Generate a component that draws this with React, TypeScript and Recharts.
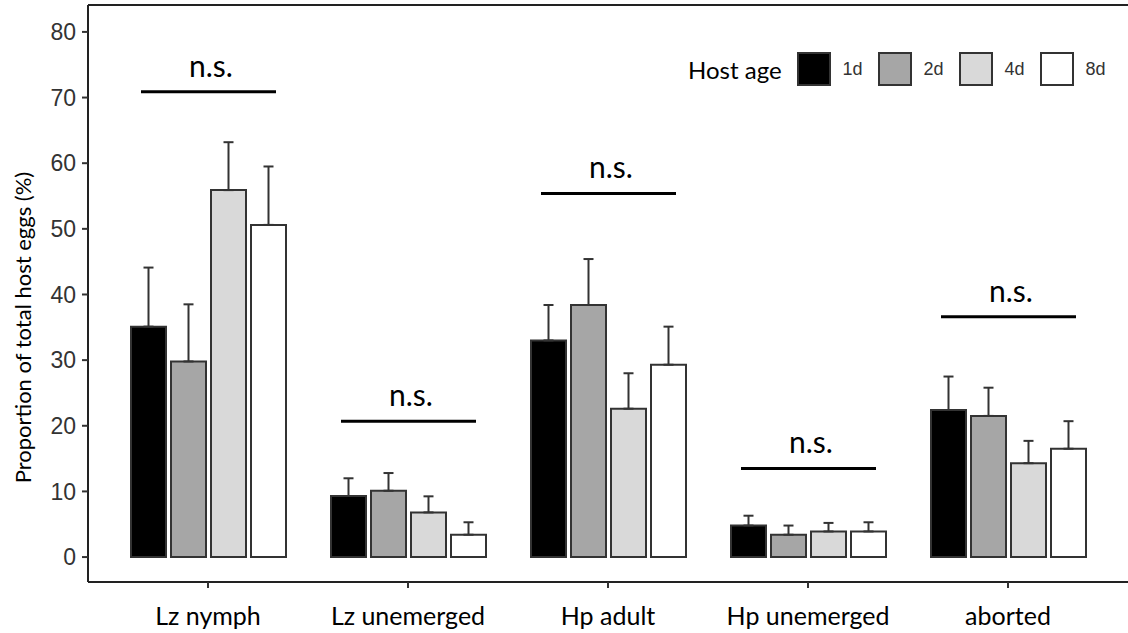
import React from 'react';
import { ComposedChart, Bar, XAxis, YAxis, ErrorBar, Scatter, Legend } from 'recharts';

const categories = ['Lz nymph', 'Lz unemerged', 'Hp adult', 'Hp unemerged', 'aborted'];
const ageLabels = ['1d', '2d', '4d', '8d'];
const ageFills = ['#000000', '#a6a6a6', '#d9d9d9', '#ffffff'];

// mean proportion (%) per host age
const mean1d = [35.1, 9.3, 33.0, 4.8, 22.4];
const mean2d = [29.8, 10.1, 38.4, 3.4, 21.5];
const mean4d = [55.9, 6.8, 22.6, 3.9, 14.3];
const mean8d = [50.6, 3.4, 29.3, 3.9, 16.5];

// upper error (SE)
const err1d = [9.0, 2.7, 5.4, 1.5, 5.1];
const err2d = [8.7, 2.7, 7.0, 1.4, 4.3];
const err4d = [7.3, 2.45, 5.4, 1.3, 3.4];
const err8d = [8.9, 1.9, 5.8, 1.4, 4.2];

// height of the "n.s." bracket
const nsLevel = [70.9, 20.7, 55.4, 13.5, 36.6];

const yTicks = [0, 10, 20, 30, 40, 50, 60, 70, 80];

const means = [mean1d, mean2d, mean4d, mean8d];
const errs = [err1d, err2d, err4d, err8d];

const data = categories.map((cat, i) => {
    const row: any = { cat, ns: nsLevel[i] };
    means.forEach((m, k) => {
        row['m' + k] = m[i];
        row['e' + k] = [0, errs[k][i]];
    });
    return row;
});

const NsMark = ({ cx, cy }: any) => (
    <g>
        <line x1={cx - 67} x2={cx + 68} y1={cy} y2={cy} stroke="#000" strokeWidth={3} />
        <text x={cx + 3} y={cy - 15} textAnchor="middle" fontFamily="Lato" fontSize={30} fill="#000">n.s.</text>
    </g>
);

const HostLegend = () => (
    <div style={{ display: 'flex', alignItems: 'center', whiteSpace: 'nowrap' }}>
        <span style={{ fontFamily: 'Lato', fontSize: 24, color: '#000', marginRight: 15 }}>Host age</span>
        {ageLabels.map((lab, k) => (
            <React.Fragment key={lab}>
                <span style={{ display: 'inline-block', width: 34, height: 34, boxSizing: 'border-box', border: '2px solid #333', background: ageFills[k], marginRight: 12 }} />
                <span style={{ fontFamily: 'Liberation Sans', fontSize: 18, color: '#333', width: 20, marginRight: 15 }}>{lab}</span>
            </React.Fragment>
        ))}
    </div>
);

const YTitle = ({ viewBox }: any) => {
    const x = 22;
    const y = viewBox.y + viewBox.height / 2 + 34;
    return (
        <text x={x} y={y} transform={`rotate(-90 ${x} ${y})`} textAnchor="middle" dominantBaseline="central"
            fontFamily="Lato" fontSize={22} fill="#000">Proportion of total host eggs (%)</text>
    );
};

export default function App() {
    return (
        <div style={{ position: 'absolute', left: 0, top: 0 }}>
            <ComposedChart width={1128} height={633} data={data}
                margin={{ top: 4, right: 0, bottom: 0, left: 0 }} barGap={5}>
                <XAxis dataKey="cat" height={51} padding={{ left: 20, right: 20 }}
                    axisLine={{ stroke: '#222', strokeWidth: 2 }} tickLine={{ stroke: '#333', strokeWidth: 2 }}
                    tickSize={6} tickMargin={19}
                    tick={{ fontFamily: 'Lato', fontSize: 25, fill: '#000' }} />
                <XAxis xAxisId="top" orientation="top" dataKey="cat" height={1} padding={{ left: 20, right: 20 }}
                    axisLine={{ stroke: '#222', strokeWidth: 2 }} tick={false} tickLine={false} />
                <YAxis width={88} type="number" domain={[-3.8, 84.1]} ticks={yTicks} allowDataOverflow
                    axisLine={{ stroke: '#222', strokeWidth: 2 }} tickLine={{ stroke: '#333', strokeWidth: 2 }}
                    tickSize={6} tickMargin={6}
                    tick={{ fontFamily: 'Liberation Sans', fontSize: 23, fill: '#333' }}
                    label={<YTitle />} />
                <Legend layout="horizontal" verticalAlign="middle" align="center" content={<HostLegend />}
                    wrapperStyle={{ top: 52, left: 688, width: 'auto' }} />
                {ageLabels.map((lab, k) => (
                    <Bar key={lab} name={lab} dataKey={'m' + k} fill={ageFills[k]} stroke="#333" strokeWidth={2}
                        barSize={35} isAnimationActive={false}>
                        <ErrorBar dataKey={'e' + k} direction="y" width={5} stroke="#333" strokeWidth={2} />
                    </Bar>
                ))}
                <Scatter dataKey="ns" legendType="none" shape={<NsMark />} isAnimationActive={false} />
            </ComposedChart>
        </div>
    );
}
